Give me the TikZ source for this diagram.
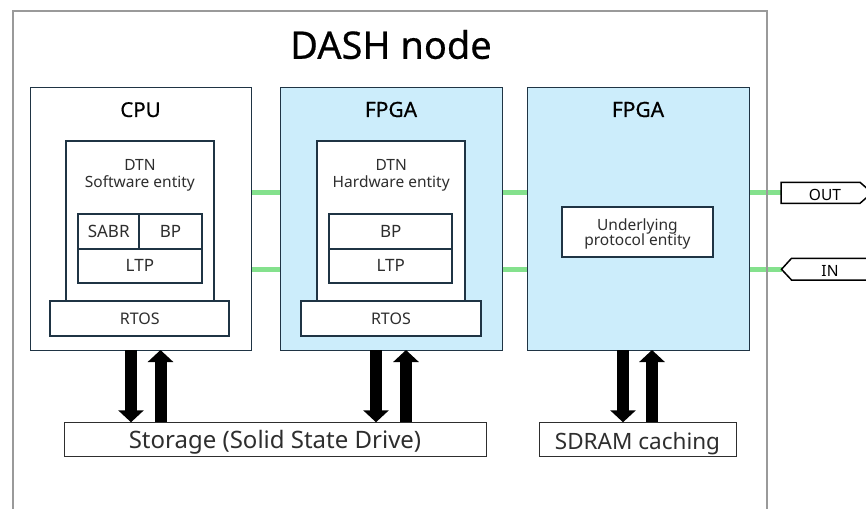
\documentclass[tikz,border=0pt]{standalone}
\usepackage{fontspec}
\setmainfont{Noto Sans}
\newfontfamily\headfont[FakeBold=0.5]{Noto Sans}
\usetikzlibrary{arrows.meta,backgrounds}

\definecolor{framegray}{HTML}{9A9A9A}
\definecolor{slate}{HTML}{1F3444}
\definecolor{chipblue}{HTML}{CCEDFB}
\definecolor{linkgreen}{HTML}{84E18D}
\definecolor{txtgray}{HTML}{2E2E2E}

\tikzset{
  blk/.style={anchor=north west, inner sep=0pt, outer sep=0pt},
  unit/.style={blk, draw=slate, line width=1pt},
  inner/.style={blk, draw=slate, line width=2pt, fill=white},
  plain/.style={blk, draw=txtgray, line width=1pt, fill=white},
  lbl/.style={anchor=base, inner sep=0pt, text=txtgray},
  head/.style={anchor=base, inner sep=0pt, text=black},
  link/.style={draw=linkgreen, line width=5pt},
  bigarrow/.style={line width=12pt, -{Triangle[width=25pt,length=12pt]}},
  port/.style={draw=black, line width=1.5pt, fill=white, line join=miter},
}

\begin{document}
\begin{tikzpicture}[x=1pt,y=-1pt]
\clip (0,0) rectangle (866,508);

% enclosing node frame (open at the bottom)
\draw[framegray, line width=2pt] (13.3,530) -- (13.3,10.7) -- (767,10.7) -- (767,530);
\node[head, font=\headfont\fontsize{38}{42}\selectfont] (title) at (391,58.8) {DASH node};

% processing units
\node[unit, fill=white, minimum width=221, minimum height=262] (cpu) at (30,88) {};
\node[unit, fill=chipblue, minimum width=222, minimum height=262] (fpgaA) at (280,88) {};
\node[unit, fill=chipblue, minimum width=222, minimum height=262] (fpgaB) at (527,88) {};
\node[head, font=\headfont\fontsize{20.5}{24}\selectfont] (cpuT) at (140.5,117) {CPU};
\node[head, font=\headfont\fontsize{21}{24}\selectfont] (fpgaAT) at (391,117) {FPGA};
\node[head, font=\headfont\fontsize{21}{24}\selectfont] (fpgaBT) at (638,117) {FPGA};

% CPU: software DTN stack
\node[inner, minimum width=148.3, minimum height=160] (sw) at (65.7,140.7) {};
\node[lbl, font=\fontsize{15.5}{16}\selectfont] (swT1) at (139.9,170.7) {DTN};
\node[lbl, font=\fontsize{15.5}{16}\selectfont] (swT2) at (139.9,187.3) {Software entity};
\node[inner, minimum width=61.3, minimum height=34.7] (sabr) at (78,214) {};
\node[inner, minimum width=62.4, minimum height=34.7] (bpA) at (139.3,214) {};
\node[inner, minimum width=123.7, minimum height=34] (ltpA) at (78,248.7) {};
\node[lbl, font=\fontsize{17}{18}\selectfont] at (108.7,237.3) {SABR};
\node[lbl, font=\fontsize{17}{18}\selectfont] at (170.5,237.3) {BP};
\node[lbl, font=\fontsize{17}{18}\selectfont] at (139.9,271.6) {LTP};
\node[inner, minimum width=179.3, minimum height=35.3] (rtosA) at (50,300.7) {};
\node[lbl, font=\fontsize{16}{18}\selectfont] at (139.7,324) {RTOS};

% FPGA: hardware DTN stack
\node[inner, minimum width=148.3, minimum height=160] (hw) at (317,140.7) {};
\node[lbl, font=\fontsize{15.5}{16}\selectfont] (hwT1) at (391.2,170.7) {DTN};
\node[lbl, font=\fontsize{15.5}{16}\selectfont] (hwT2) at (391.2,187.3) {Hardware entity};
\node[inner, minimum width=122.7, minimum height=34.7] (bpB) at (329.3,214) {};
\node[inner, minimum width=122.7, minimum height=34] (ltpB) at (329.3,248.7) {};
\node[lbl, font=\fontsize{17}{18}\selectfont] at (390.7,237.3) {BP};
\node[lbl, font=\fontsize{17}{18}\selectfont] at (390.7,271.6) {LTP};
\node[inner, minimum width=179.7, minimum height=35.3] (rtosB) at (301,300.7) {};
\node[lbl, font=\fontsize{16}{18}\selectfont] at (390.9,324) {RTOS};

% FPGA: lower protocol layer
\node[inner, minimum width=150.7, minimum height=50] (upe) at (562,206.7) {};
\node[lbl, font=\fontsize{15.5}{16}\selectfont] at (637.4,230.7) {Underlying};
\node[lbl, font=\fontsize{15.5}{16}\selectfont] at (637.4,245.7) {protocol entity};

% memories
\node[plain, minimum width=422.7, minimum height=33.7] (storage) at (64,422.3) {};
\node[lbl, font=\fontsize{24}{26}\selectfont] at (275,448.3) {Storage (Solid State Drive)};
\node[plain, minimum width=197.4, minimum height=34] (sdram) at (539.3,422.3) {};
\node[lbl, font=\fontsize{22.5}{26}\selectfont] at (637.5,449) {SDRAM caching};

% external ports
\coordinate (outL) at (781,192.5);
\coordinate (inL) at (781.5,269.3);
\draw[port] (781,182.3) -- (860,182.3) -- (872,192.8) -- (860,203.3) -- (781,203.3) -- cycle;
\draw[port] (inL) -- (791.5,258.3) -- (880,258.3) -- (880,280) -- (791.5,280) -- cycle;
\node[lbl, text=black, font=\fontsize{15.5}{16}\selectfont] (out) at (825,200) {OUT};
\node[lbl, text=black, font=\fontsize{15.5}{16}\selectfont] (in) at (830,276.7) {IN};

% white page, then the interconnects, both behind the blocks
\begin{scope}[on background layer]
\fill[white] (0,0) rectangle (866,508);
\draw[link] (cpu.east |- 0,192.3) -- (fpgaA.west |- 0,192.3);
\draw[link] (cpu.east |- 0,269.3) -- (fpgaA.west |- 0,269.3);
\draw[link] (fpgaA.east |- 0,192.3) -- (fpgaB.west |- 0,192.3);
\draw[link] (fpgaA.east |- 0,269.3) -- (fpgaB.west |- 0,269.3);
\draw[link] (fpgaB.east |- outL) -- (outL);
\draw[link] (fpgaB.east |- inL) -- (inL);
\end{scope}

% memory transfers
\draw[bigarrow] (131,0 |- cpu.south) -- (131,0 |- storage.north);
\draw[bigarrow] (160.5,0 |- storage.north) -- (160.5,0 |- cpu.south);
\draw[bigarrow] (376,0 |- fpgaA.south) -- (376,0 |- storage.north);
\draw[bigarrow] (406,0 |- storage.north) -- (406,0 |- fpgaA.south);
\draw[bigarrow] (623,0 |- fpgaB.south) -- (623,0 |- sdram.north);
\draw[bigarrow] (652,0 |- sdram.north) -- (652,0 |- fpgaB.south);
\end{tikzpicture}
\end{document}
